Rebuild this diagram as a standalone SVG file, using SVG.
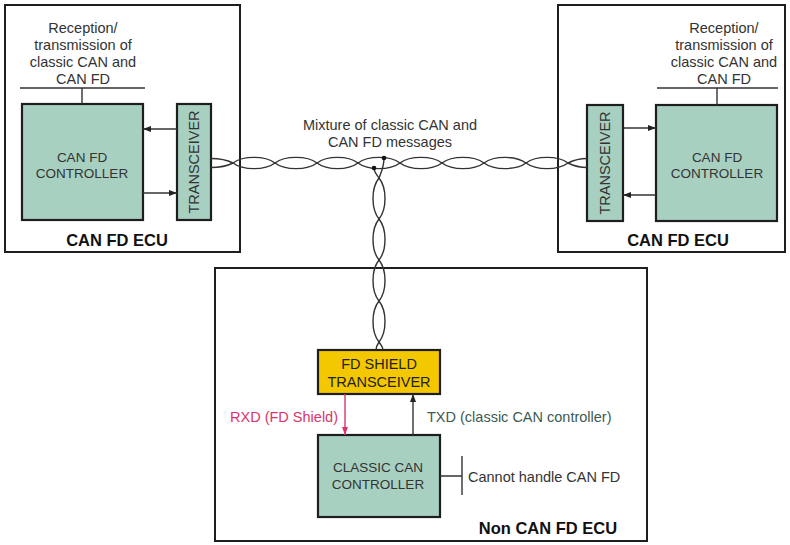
<svg xmlns="http://www.w3.org/2000/svg" width="790" height="545" viewBox="0 0 790 545">
  <defs>
    <marker id="arr" viewBox="0 0 8 6" refX="8" refY="3" markerWidth="8" markerHeight="6" markerUnits="userSpaceOnUse" orient="auto">
      <path d="M0,0 L8,3 L0,6 z" fill="#222"/>
    </marker>
    <marker id="arrRed" viewBox="0 0 8 6" refX="8" refY="3" markerWidth="8" markerHeight="6" markerUnits="userSpaceOnUse" orient="auto">
      <path d="M0,0 L8,3 L0,6 z" fill="#d8356a"/>
    </marker>
    <style>
      .ecu { fill: #ffffff; stroke: #1e1e1e; stroke-width: 2; }
      .ctrl { fill: #a8d0c1; stroke: #1e1e1e; stroke-width: 2.2; }
      .shield { fill: #f4c800; stroke: #1e1e1e; stroke-width: 2.2; }
      .wire { fill: none; stroke: #333; stroke-width: 1.4; }
      .line { fill: none; stroke: #333; stroke-width: 1.4; }
      .t { font-family: "Liberation Sans", Arial, sans-serif; font-size: 14.5px; fill: #333; text-anchor: middle; }
      .tc { font-family: "Liberation Sans", Arial, sans-serif; font-size: 13.5px; fill: #333; text-anchor: middle; }
      .lbl { font-family: "Liberation Sans", Arial, sans-serif; font-size: 14.5px; }
      .title { font-family: "Liberation Sans", Arial, sans-serif; font-size: 16.5px; font-weight: bold; fill: #111; text-anchor: middle; }
      .dot { fill: #111; }
    </style>
  </defs>

  <!-- ECU enclosures -->
  <g id="ecu-left">
    <rect class="ecu" x="5" y="5" width="235" height="247"/>
    <text class="title" x="117" y="246">CAN FD ECU</text>
  </g>
  <g id="ecu-right">
    <rect class="ecu" x="558" y="5" width="227" height="247"/>
    <text class="title" x="678" y="246">CAN FD ECU</text>
  </g>
  <g id="ecu-bottom">
    <rect class="ecu" x="215" y="268" width="432" height="273"/>
    <text class="title" x="548" y="534">Non CAN FD ECU</text>
  </g>

  <!-- left CAN FD ECU contents -->
  <g id="note-left">
    <text class="t" x="83" y="33">Reception/</text>
    <text class="t" x="83" y="50">transmission of</text>
    <text class="t" x="83" y="67">classic CAN and</text>
    <text class="t" x="83" y="84">CAN FD</text>
  </g>
  <g id="controller-left">
    <rect class="ctrl" x="22" y="104" width="121" height="116"/>
    <text class="tc" x="82" y="162">CAN FD</text>
    <text class="tc" x="82" y="178">CONTROLLER</text>
  </g>
  <g id="transceiver-left">
    <rect class="ctrl" x="177" y="104" width="34" height="116"/>
    <text class="t" transform="translate(194,162) rotate(-90)" x="0" y="5">TRANSCEIVER</text>
  </g>

  <!-- right CAN FD ECU contents -->
  <g id="note-right">
    <text class="t" x="724" y="33">Reception/</text>
    <text class="t" x="724" y="50">transmission of</text>
    <text class="t" x="724" y="67">classic CAN and</text>
    <text class="t" x="724" y="84">CAN FD</text>
  </g>
  <g id="controller-right">
    <rect class="ctrl" x="656" y="105" width="121" height="116"/>
    <text class="tc" x="717" y="162">CAN FD</text>
    <text class="tc" x="717" y="178">CONTROLLER</text>
  </g>
  <g id="transceiver-right">
    <rect class="ctrl" x="587" y="105" width="36" height="116"/>
    <text class="t" transform="translate(605,163) rotate(-90)" x="0" y="5">TRANSCEIVER</text>
  </g>

  <!-- non CAN FD ECU contents -->
  <g id="fd-shield">
    <rect class="shield" x="318" y="350" width="122" height="44"/>
    <text class="t" x="379" y="369" style="fill:#222">FD SHIELD</text>
    <text class="t" x="379" y="387" style="fill:#222">TRANSCEIVER</text>
  </g>
  <g id="classic-controller">
    <rect class="ctrl" x="318" y="435" width="122" height="82"/>
    <text class="tc" x="378" y="472">CLASSIC CAN</text>
    <text class="tc" x="378" y="489">CONTROLLER</text>
  </g>

  <!-- bus label -->
  <g id="bus-label">
    <text class="t" x="390" y="130">Mixture of classic CAN and</text>
    <text class="t" x="390" y="147">CAN FD messages</text>
  </g>

  <!-- connectors -->
  <g id="connectors">
    <!-- annotation brackets -->
    <path class="line" d="M20,88 H145 M82,88 V104"/>
    <path class="line" d="M657,88 H778 M717,88 V105"/>
    <path class="line" d="M440,476 H462 M462,456 V495"/>

    <!-- controller / transceiver signals -->
    <line class="line" x1="177" y1="129" x2="143" y2="129" marker-end="url(#arr)"/>
    <line class="line" x1="143" y1="193" x2="177" y2="193" marker-end="url(#arr)"/>
    <line class="line" x1="623" y1="128" x2="656" y2="128" marker-end="url(#arr)"/>
    <line class="line" x1="656" y1="195" x2="623" y2="195" marker-end="url(#arr)"/>

    <!-- RXD / TXD -->
    <line x1="345" y1="394" x2="345" y2="435" stroke="#d8356a" stroke-width="1.4" marker-end="url(#arrRed)"/>
    <line class="line" x1="413" y1="435" x2="413" y2="394" marker-end="url(#arr)"/>
    <text class="lbl" x="338" y="422" style="fill:#d8356a; text-anchor:end">RXD (FD Shield)</text>
    <text class="lbl" x="427" y="422" style="fill:#3c5a52">TXD (classic CAN controller)</text>
    <text class="lbl" x="468" y="482" style="fill:#333">Cannot handle CAN FD</text>

    <!-- horizontal twisted pair -->
    <path class="wire" d="M211,158.5 C222,158.5 227,160 233,163
      C243,170.5 265,170.5 275,163 C285,155.5 307,155.5 317,163
      C327,170.5 348,170.5 358,163 C368,155.5 390,155.5 400,163
      C410,170.5 432,170.5 442,163 C452,155.5 474,155.5 484,163
      C494,170.5 516,170.5 526,163 C536,155.5 558,155.5 568,163
      C574,166 579,167.5 587,167.5"/>
    <path class="wire" d="M211,167.5 C222,167.5 227,166 233,163
      C243,155.5 265,155.5 275,163 C285,170.5 307,170.5 317,163
      C327,155.5 348,155.5 358,163 C368,170.5 390,170.5 400,163
      C410,155.5 432,155.5 442,163 C452,170.5 474,170.5 484,163
      C494,155.5 516,155.5 526,163 C536,170.5 558,170.5 568,163
      C574,160 579,158.5 587,158.5"/>

    <!-- vertical twisted pair stub -->
    <path class="wire" d="M384,158 C384,167 381,173 379,178
      C371,188 371,209 379,219 C387,229 387,250 379,260
      C371,270 371,291 379,301 C387,311 387,332 379,342
      C377,345 376,347 376,350"/>
    <path class="wire" d="M374,168 C374,172 377,175 379,178
      C387,188 387,209 379,219 C371,229 371,250 379,260
      C387,270 387,291 379,301 C371,311 371,332 379,342
      C381,345 383,347 383,350"/>
    <circle class="dot" cx="384" cy="158" r="2.3"/>
    <circle class="dot" cx="374" cy="168" r="2.3"/>
  </g>
</svg>
